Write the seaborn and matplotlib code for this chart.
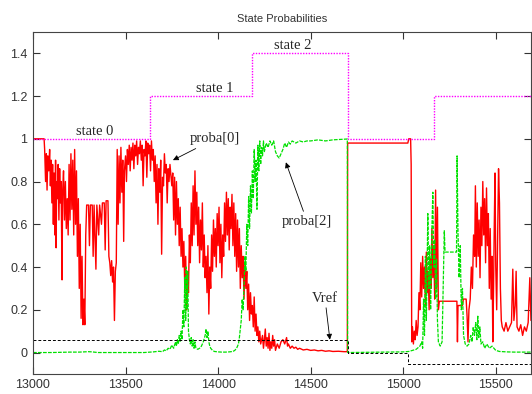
import numpy as np
import pandas as pd
import seaborn as sns
import matplotlib
matplotlib.use("Agg")
import matplotlib.pyplot as plt
from matplotlib.ticker import FormatStrFormatter

# proba[0] (red)
p0_x = [13000, 13060, 13063, 13068, 13072, 13076, 13080, 13085, 13090, 13094, 13098, 13102, 13106, 13110,
        13114, 13118, 13122, 13125, 13128, 13132, 13136, 13140, 13144, 13148, 13152, 13157, 13160, 13165,
        13170, 13175, 13180, 13185, 13190, 13195, 13200, 13205, 13210, 13215, 13220, 13225, 13230, 13235,
        13240, 13245, 13250, 13255, 13260, 13265, 13270, 13275, 13280, 13285, 13290, 13300, 13305, 13310,
        13320, 13325, 13330, 13340, 13345, 13355, 13360, 13370, 13375, 13385, 13390, 13395, 13405, 13410,
        13415, 13420, 13425, 13430, 13435, 13440, 13445, 13450, 13455, 13460, 13465, 13470, 13475, 13480,
        13485, 13490, 13494, 13500, 13505, 13510, 13515, 13520, 13525, 13530, 13535, 13540, 13545, 13550,
        13555, 13560, 13565, 13570, 13575, 13580, 13585, 13590, 13595, 13600, 13605, 13610, 13615, 13620,
        13625, 13630, 13635, 13640, 13645, 13650, 13655, 13660, 13665, 13670, 13675, 13680, 13685, 13690,
        13695, 13700, 13705, 13710, 13715, 13720, 13725, 13730, 13735, 13740, 13745, 13750, 13755, 13760,
        13765, 13770, 13775, 13780, 13785, 13790, 13795, 13800, 13805, 13810, 13815, 13820, 13825, 13830,
        13835, 13840, 13845, 13850, 13855, 13860, 13865, 13870, 13875, 13880, 13885, 13890, 13895, 13900,
        13905, 13910, 13915, 13920, 13925, 13930, 13935, 13940, 13945, 13950, 13955, 13960, 13965, 13970,
        13975, 13980, 13985, 13990, 13995, 14000, 14005, 14010, 14015, 14020, 14025, 14030, 14035, 14040,
        14045, 14050, 14055, 14060, 14065, 14070, 14075, 14080, 14085, 14090, 14095, 14100, 14105, 14110,
        14115, 14120, 14125, 14130, 14135, 14140, 14145, 14150, 14155, 14160, 14165, 14170, 14175, 14180,
        14185, 14190, 14195, 14200, 14205, 14210, 14215, 14220, 14225, 14230, 14240, 14245, 14250, 14255,
        14260, 14265, 14270, 14275, 14280, 14285, 14290, 14295, 14300, 14305, 14310, 14320, 14330, 14340,
        14350, 14360, 14370, 14375, 14380, 14390, 14400, 14410, 14420, 14430, 14440, 14460, 14480, 14500,
        14520, 14540, 14560, 14580, 14600, 14620, 14650, 14680, 14698, 14700, 15025, 15030, 15040, 15043,
        15046, 15050, 15055, 15060, 15065, 15070, 15075, 15080, 15085, 15090, 15095, 15100, 15105, 15110,
        15115, 15120, 15125, 15130, 15135, 15140, 15145, 15150, 15155, 15160, 15165, 15170, 15175, 15180,
        15185, 15190, 15195, 15290, 15293, 15296, 15320, 15325, 15340, 15345, 15350, 15355, 15362, 15368,
        15374, 15380, 15386, 15390, 15395, 15400, 15405, 15410, 15415, 15420, 15425, 15430, 15435, 15440,
        15445, 15450, 15455, 15460, 15465, 15470, 15475, 15480, 15484, 15488, 15492, 15496, 15500, 15505,
        15510, 15515, 15520, 15525, 15530, 15535, 15545, 15555, 15565, 15575, 15585, 15592, 15598, 15605,
        15610, 15615, 15625, 15635, 15645, 15655, 15665, 15675, 15684, 15690]
p0_y = [1.0, 1.0, 0.95, 0.80, 0.93, 0.76, 0.92, 0.85, 0.95, 0.78, 0.90, 0.70, 0.88, 0.60,
        0.84, 0.55, 0.90, 0.49, 0.80, 0.72, 0.88, 0.62, 0.86, 0.70, 0.80, 0.34, 0.75, 0.85,
        0.62, 0.80, 0.58, 0.72, 0.55, 0.88, 0.62, 0.93, 0.67, 0.90, 0.55, 0.95, 0.60, 0.85,
        0.45, 0.72, 0.30, 0.60, 0.16, 0.45, 0.13, 0.25, 0.13, 0.55, 0.69, 0.69, 0.50, 0.69,
        0.69, 0.45, 0.69, 0.39, 0.69, 0.55, 0.69, 0.60, 0.70, 0.70, 0.48, 0.71, 0.71, 0.45,
        0.42, 0.36, 0.43, 0.33, 0.40, 0.15, 0.38, 0.42, 0.95, 0.60, 0.92, 0.70, 0.96, 0.75,
        0.90, 0.52, 0.85, 0.92, 0.80, 0.95, 0.88, 0.97, 0.85, 0.96, 0.90, 0.98, 0.86, 0.97,
        0.92, 0.99, 0.88, 0.96, 0.93, 0.99, 0.90, 0.97, 0.78, 0.95, 0.92, 0.99, 0.82, 0.98,
        0.93, 0.97, 0.85, 0.99, 0.90, 0.95, 0.80, 0.92, 0.70, 0.88, 0.60, 0.86, 0.75, 0.90,
        0.46, 0.82, 0.78, 0.93, 0.84, 0.88, 0.70, 0.86, 0.80, 0.88, 0.83, 0.78, 0.84, 0.62,
        0.82, 0.55, 0.80, 0.60, 0.72, 0.50, 0.68, 0.45, 0.58, 0.40, 0.52, 0.30, 0.45, 0.20,
        0.38, 0.28, 0.55, 0.42, 0.70, 0.50, 0.78, 0.55, 0.85, 0.60, 0.75, 0.50, 0.68, 0.42,
        0.62, 0.48, 0.70, 0.40, 0.55, 0.35, 0.45, 0.28, 0.50, 0.18, 0.40, 0.30, 0.55, 0.38,
        0.62, 0.45, 0.58, 0.40, 0.65, 0.50, 0.68, 0.42, 0.60, 0.35, 0.55, 0.45, 0.70, 0.52,
        0.75, 0.55, 0.72, 0.48, 0.68, 0.58, 0.74, 0.50, 0.70, 0.45, 0.65, 0.38, 0.62, 0.40,
        0.58, 0.30, 0.50, 0.35, 0.45, 0.25, 0.42, 0.30, 0.38, 0.20, 0.32, 0.15, 0.28, 0.18,
        0.22, 0.12, 0.26, 0.10, 0.18, 0.08, 0.12, 0.05, 0.10, 0.04, 0.08, 0.02, 0.06, 0.11,
        0.03, 0.07, 0.02, 0.09, 0.01, 0.05, 0.02, 0.08, 0.03, 0.06, 0.01, 0.04, 0.02, 0.05,
        0.06, 0.04, 0.07, 0.03, 0.04, 0.02, 0.03, 0.02, 0.025, 0.015, 0.02, 0.012, 0.015, 0.01,
        0.012, 0.008, 0.01, 0.006, 0.008, 0.005, 0.006, 0.004, 0.004, 0.98, 0.98, 1.0, 1.0, 0.88,
        0.05, 0.12, 0.04, 0.10, 0.06, 0.15, 0.08, 0.12, 0.28, 0.20, 0.42, 0.26, 0.45, 0.30,
        0.40, 0.22, 0.47, 0.28, 0.38, 0.20, 0.44, 0.30, 0.58, 0.35, 0.50, 0.25, 0.76, 0.30,
        0.68, 0.20, 0.24, 0.24, 0.05, 0.22, 0.22, 0.25, 0.25, 0.17, 0.05, 0.20, 0.25, 0.40,
        0.30, 0.55, 0.45, 0.78, 0.40, 0.70, 0.45, 0.62, 0.35, 0.68, 0.50, 0.80, 0.55, 0.72,
        0.42, 0.77, 0.50, 0.65, 0.30, 0.58, 0.25, 0.45, 0.05, 0.30, 0.60, 0.84, 0.40, 0.20,
        0.55, 0.86, 0.70, 0.30, 0.15, 0.12, 0.10, 0.14, 0.10, 0.12, 0.14, 0.39, 0.15, 0.22,
        0.38, 0.12, 0.10, 0.13, 0.08, 0.12, 0.10, 0.14, 0.35, 0.15]

# proba[2] (green)
p2_x = [13000, 13100, 13200, 13250, 13300, 13320, 13350, 13400, 13500, 13600, 13650, 13680, 13700, 13710,
        13720, 13730, 13740, 13750, 13760, 13770, 13775, 13780, 13785, 13790, 13795, 13800, 13805, 13810,
        13815, 13820, 13825, 13828, 13832, 13836, 13840, 13845, 13850, 13855, 13860, 13865, 13870, 13875,
        13880, 13890, 13900, 13910, 13920, 13930, 13935, 13940, 13945, 13950, 13955, 13960, 13970, 13980,
        14000, 14020, 14040, 14060, 14080, 14090, 14100, 14110, 14115, 14120, 14125, 14130, 14135, 14140,
        14145, 14150, 14155, 14160, 14165, 14170, 14175, 14180, 14185, 14190, 14195, 14200, 14205, 14210,
        14215, 14220, 14225, 14230, 14235, 14240, 14245, 14250, 14260, 14270, 14280, 14290, 14300, 14310,
        14320, 14330, 14340, 14350, 14360, 14370, 14380, 14390, 14400, 14420, 14440, 14460, 14480, 14500,
        14540, 14580, 14620, 14660, 14698, 14700, 15000, 15030, 15050, 15070, 15090, 15100, 15105, 15110,
        15115, 15120, 15125, 15133, 15138, 15143, 15148, 15155, 15160, 15165, 15170, 15175, 15180, 15185,
        15190, 15200, 15210, 15222, 15226, 15288, 15291, 15296, 15302, 15308, 15314, 15320, 15326, 15335,
        15345, 15355, 15365, 15372, 15378, 15385, 15392, 15398, 15403, 15408, 15414, 15420, 15430, 15440,
        15452, 15465, 15480, 15500, 15520, 15560, 15600, 15650, 15690]
p2_y = [0.0, 0.0, 0.002, 0.002, 0.004, 0.003, 0.0, 0.0, 0.0, 0.0, 0.003, 0.006, 0.004, 0.012,
        0.008, 0.02, 0.015, 0.035, 0.02, 0.05, 0.03, 0.06, 0.04, 0.08, 0.05, 0.10, 0.06, 0.20,
        0.12, 0.35, 0.15, 0.40, 0.20, 0.38, 0.10, 0.06, 0.04, 0.07, 0.03, 0.06, 0.02, 0.05,
        0.02, 0.015, 0.02, 0.03, 0.05, 0.08, 0.11, 0.07, 0.10, 0.05, 0.03, 0.02, 0.01, 0.005,
        0.003, 0.002, 0.002, 0.003, 0.005, 0.01, 0.02, 0.04, 0.07, 0.11, 0.15, 0.25, 0.20, 0.31,
        0.45, 0.38, 0.60, 0.50, 0.73, 0.58, 0.78, 0.65, 0.85, 0.72, 0.95, 0.80, 0.90, 0.67,
        0.97, 0.85, 0.99, 0.88, 0.96, 0.92, 0.99, 0.94, 0.98, 0.96, 0.99, 0.97, 0.99, 0.94,
        0.92, 0.91, 0.93, 0.95, 0.98, 0.96, 0.985, 0.975, 0.99, 0.98, 0.99, 0.985, 0.99, 0.99,
        0.995, 0.99, 0.995, 0.997, 0.999, 0.0, 0.003, 0.005, 0.01, 0.015, 0.03, 0.05, 0.02, 0.25,
        0.08, 0.45, 0.15, 0.65, 0.30, 0.50, 0.20, 0.58, 0.75, 0.40, 0.53, 0.25, 0.44, 0.15,
        0.05, 0.03, 0.05, 0.57, 0.47, 0.47, 0.92, 0.56, 0.35, 0.50, 0.20, 0.30, 0.08, 0.04,
        0.03, 0.04, 0.08, 0.05, 0.12, 0.08, 0.14, 0.06, 0.17, 0.07, 0.12, 0.04, 0.05, 0.02,
        0.04, 0.02, 0.03, 0.01, 0.005, 0.003, 0.002, 0.002, 0.002]

# state sequence and reference level (step changes)
state_x = [13000, 13632, 14182, 14701, 15165, 15690]
state_y = [1.0, 1.2, 1.4, 1.0, 1.2, 1.2]
vref_x = [13000, 14700, 15025, 15690]
vref_y = [0.06, 0.0, -0.055, -0.055]

x_ticks = [13000, 13500, 14000, 14500, 15000, 15500]
y_ticks = [0, 0.2, 0.4, 0.6, 0.8, 1, 1.2, 1.4]

sns.set_style("ticks")
plt.rcParams['font.family'] = ['Liberation Sans', 'DejaVu Sans']

fig = plt.figure(figsize=(5.32, 3.94), dpi=100)
ax = fig.add_axes([0.062, 0.051, 0.936, 0.868])

p0 = pd.DataFrame({"t": p0_x, "p": p0_y})
p2 = pd.DataFrame({"t": p2_x, "p": p2_y})

sns.lineplot(data=p0, x="t", y="p", ax=ax, sort=False, estimator=None,
             color="#ff0000", linewidth=1.0)
sns.lineplot(data=p2, x="t", y="p", ax=ax, sort=False, estimator=None,
             color="#00e000", linewidth=0.9, linestyle=(0, (3, 1)))
sns.lineplot(x=state_x, y=state_y, ax=ax, sort=False, estimator=None,
             color="#ff00ff", linewidth=1.0, linestyle=(0, (1, 1)), drawstyle="steps-post")
sns.lineplot(x=vref_x, y=vref_y, ax=ax, sort=False, estimator=None,
             color="black", linewidth=0.7, linestyle=(0, (3, 2)), drawstyle="steps-post")

ax.set_xlim(13000, 15690)
ax.set_ylim(-0.1, 1.5)
ax.set_xticks(x_ticks)
ax.set_yticks(y_ticks)
ax.yaxis.set_major_formatter(FormatStrFormatter('%g'))
ax.tick_params(direction="in", top=True, right=True, length=5, width=0.8,
               labelsize=9, colors="#333333", pad=4)
for s in ax.spines.values():
    s.set_visible(True)
    s.set_color("#444444")
    s.set_linewidth(0.8)
ax.set_xlabel("")
ax.set_ylabel("")
ax.set_title("State Probabilities", fontsize=8, color="#333333", pad=7)

serif = ['Liberation Serif', 'DejaVu Serif']
ax.text(13335, 1.005, "state 0", family=serif, fontsize=10.5, ha="center", va="bottom")
ax.text(13983, 1.205, "state 1", family=serif, fontsize=10.5, ha="center", va="bottom")
ax.text(14404, 1.405, "state 2", family=serif, fontsize=10.5, ha="center", va="bottom")

arrow = dict(arrowstyle="-|>", color="black", lw=0.6, mutation_scale=8, shrinkA=0, shrinkB=0)
ax.annotate("proba[0]", xy=(13756, 0.90), xytext=(13983, 1.0), family=serif, fontsize=10.5,
            ha="center", va="center", arrowprops=arrow)
ax.annotate("proba[2]", xy=(14366, 0.89), xytext=(14480, 0.615), family=serif, fontsize=10.5,
            ha="center", va="center", arrowprops=arrow)
ax.annotate("Vref", xy=(14604, 0.06), xytext=(14577, 0.255), family=serif, fontsize=10.5,
            ha="center", va="center", arrowprops=arrow)

fig.savefig("out.png", dpi=100)
